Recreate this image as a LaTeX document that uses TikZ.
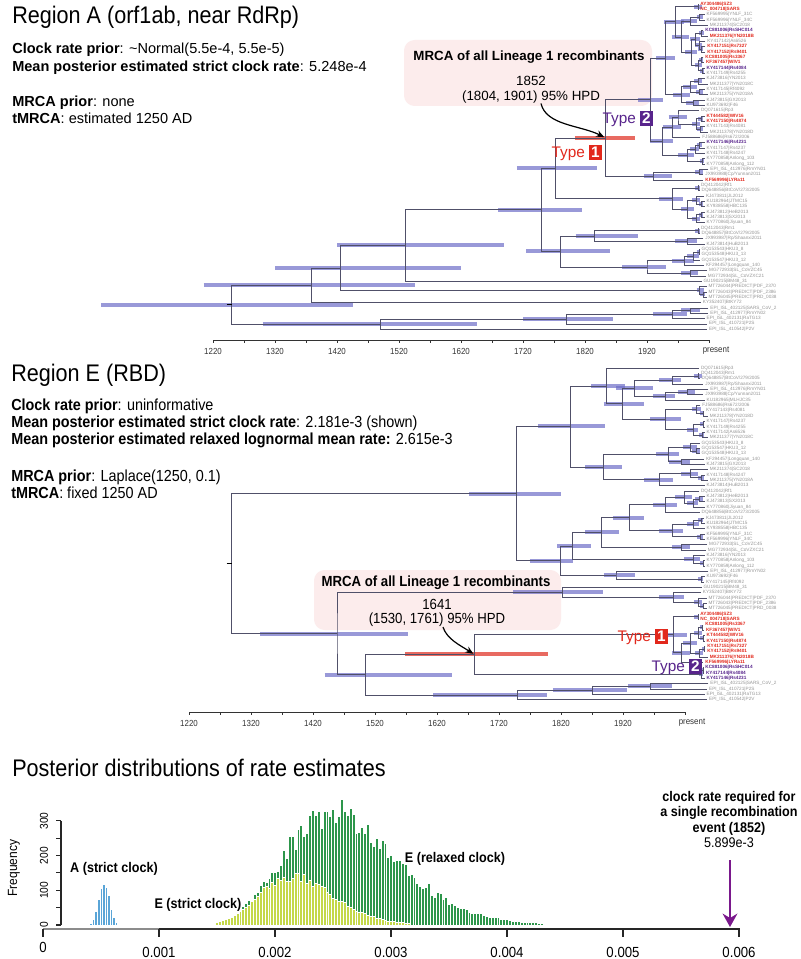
\documentclass[tikz,border=0pt]{standalone}
\usepackage{fontspec}
\setmainfont{Liberation Sans}
\newfontfamily\nsf{Liberation Sans}[FakeStretch=0.9]
\usetikzlibrary{calc,arrows.meta}

\definecolor{branchc}{RGB}{80,80,105}
\definecolor{hpdc}{RGB}{110,110,200}
\definecolor{hpdredc}{RGB}{228,80,70}
\definecolor{tipgrey}{RGB}{150,150,150}
\definecolor{typered}{RGB}{226,40,28}
\definecolor{typepurple}{RGB}{88,36,140}
\definecolor{boxpink}{RGB}{252,236,236}
\definecolor{histblue}{RGB}{90,165,215}
\definecolor{histgreen}{RGB}{45,150,75}
\definecolor{histyellow}{RGB}{196,216,72}
\definecolor{arrowpurple}{RGB}{122,24,140}

\pgfdeclarelayer{paper}
\pgfdeclarelayer{boxes}
\pgfdeclarelayer{bars}
\pgfsetlayers{paper,boxes,bars,main}

\tikzset{
  branch/.style={draw=branchc, line width=0.45pt},
  hpd/.style={draw=hpdc, draw opacity=0.7, line width=3pt},
  hpdred/.style={draw=hpdredc, draw opacity=0.85, line width=3pt},
  tiplab/.style={anchor=west, inner sep=0pt, xshift=1.3pt, text=tipgrey, font=\fontsize{3.5}{3.8}\selectfont},
  tipred/.style={tiplab, text=typered, font=\fontsize{3.5}{3.8}\selectfont\bfseries},
  tippurple/.style={tiplab, text=typepurple, font=\fontsize{3.5}{3.8}\selectfont\bfseries},
  paneltitle/.style={anchor=west, inner sep=0pt, font=\nsf\fontsize{18}{20}\selectfont},
  infoA/.style={anchor=west, inner sep=0pt, font=\fontsize{10.9}{13}\selectfont},
  infoE/.style={anchor=west, inner sep=0pt, font=\nsf\fontsize{12}{14}\selectfont},
  calloutA/.style={inner sep=0pt, font=\fontsize{10}{12}\selectfont},
  calloutE/.style={inner sep=0pt, font=\nsf\fontsize{11}{13}\selectfont},
  callarrow/.style={-{Stealth[length=6pt,width=5pt]}, line width=0.9pt},
  typelab/.style={anchor=east, inner sep=0pt, font=\fontsize{11.5}{13}\selectfont},
  axisline/.style={draw=black!80, line width=0.7pt},
  axislab/.style={inner sep=0pt, font=\nsf\fontsize{6.6}{8}\selectfont, text=black!80},
  histlab/.style={inner sep=0pt, font=\nsf\fontsize{10.5}{11.6}\selectfont\bfseries},
  ticklab/.style={inner sep=0pt, font=\nsf\fontsize{11}{13}\selectfont},
  ylab/.style={inner sep=0pt, rotate=90, font=\nsf\fontsize{8.5}{10}\selectfont},
  plotaxis/.style={draw=black!85, line width=0.8pt}
}

% year -> x (px), tree prefix \tr, tip rows \ytop + \dy*(i-1)
\def\xo{213}
\newcommand{\yr}[1]{\xo+0.62*(#1-1220)}
\newcommand{\tp}[4][tiplab]{%
  \coordinate (\tr#2) at ({\yr{#3}},{\ytop+\dy*(#2-1)});
  \node[#1] at (\tr#2) {#4};}
\newcommand{\nd}[7][hpd]{%
  \path ($(\tr#4)!.5!(\tr#5)$) coordinate (\tr#2m);
  \coordinate (\tr#2) at ({\yr{#3}},0 |- \tr#2m);
  \begin{pgfonlayer}{bars}
    \draw[#1] ({\yr{#6}},0 |- \tr#2) -- ({\yr{#7}},0 |- \tr#2);
  \end{pgfonlayer}
  \draw[branch] (\tr#4) -| (\tr#2) |- (\tr#5);}
\newcommand{\typebox}[2]{{\setlength{\fboxsep}{1.5pt}\colorbox{#1}{\textcolor{white}{\bfseries #2}}}}

\begin{document}
\begin{tikzpicture}[x=0.75pt,y=-0.75pt]
\begin{pgfonlayer}{paper}
\fill[white] (0,0) rectangle (800,959);
\end{pgfonlayer}
\useasboundingbox (0,0) rectangle (800,959);

% ---------------- Region A ----------------
\node[paneltitle] (titleA) at (12,17) {Region A (orf1ab, near RdRp)};
\node[infoA] (priorA) at (12,50) {\textbf{Clock rate prior}: \textasciitilde Normal(5.5e-4, 5.5e-5)};
\node[infoA] (rateA) at (12,68) {\textbf{Mean posterior estimated strict clock rate}: 5.248e-4};
\node[infoA] (mrcaPriorA) at (12,103) {\textbf{MRCA prior}: none};
\node[infoA] (tmrcaA) at (12,118) {\textbf{tMRCA}: estimated 1250 AD};

\begin{pgfonlayer}{boxes}
\fill[boxpink, rounded corners=8pt] (404,40) rectangle (652,106);
\end{pgfonlayer}
\node[calloutA, font=\fontsize{10}{12}\selectfont\bfseries] (mrcaA) at (529,57) {MRCA of all Lineage 1 recombinants};
\node[calloutA] (dateA) at (531,81) {1852};
\node[calloutA] (hpdA) at (531,97) {(1804, 1901) 95\% HPD};

\def\tr{a}\def\ytop{4}\def\dy{5.33}
\tp[tipred]{1}{2003}{AY304486|SZ3}
\tp[tipred]{2}{2003}{NC\_004718|SARS}
\tp{3}{2013}{KF569995|YNLF\_31C}
\tp{4}{2013}{KF569996|YNLF\_34C}
\tp{5}{2018}{MK211374|SC2018}
\tp[tippurple]{6}{2011}{KC881006|RsSHC014}
\tp[tipred]{7}{2018}{MK211376|YN2018B}
\tp{8}{2014}{KY417142|As6526}
\tp[tipred]{9}{2014}{KY417151|Rs7327}
\tp[tipred]{10}{2014}{KY417152|Rs9401}
\tp[tipred]{11}{2011}{KC881005|Rs3367}
\tp[tipred]{12}{2012}{KF367457|WIV1}
\tp[tippurple]{13}{2013}{KY417144|Rs4084}
\tp{14}{2013}{KY417149|Rs4255}
\tp{15}{2013}{KJ473816|YN2013}
\tp{16}{2018}{MK211377|YN2018C}
\tp{17}{2013}{KY417145|Rf4092}
\tp{18}{2018}{MK211375|YN2018A}
\tp{19}{2013}{KJ473815|GX2013}
\tp{20}{2013}{KU973692|F46}
\tp{21}{2004}{DQ071615|Rp3}
\tp[tipred]{22}{2013}{KT444582|WIV16}
\tp[tipred]{23}{2013}{KY417150|Rs4874}
\tp{24}{2013}{KY417143|Rs4081}
\tp{25}{2018}{MK211378|YN2018D}
\tp{26}{2006}{FJ588686|Rs672/2006}
\tp[tippurple]{27}{2013}{KY417146|Rs4231}
\tp{28}{2013}{KY417147|Rs4237}
\tp{29}{2013}{KY417148|Rs4247}
\tp{30}{2013}{KY770858|Anlong\_103}
\tp{31}{2013}{KY770859|Anlong\_112}
\tp{32}{2019}{EPI\_ISL\_412976|RmYN01}
\tp{33}{2011}{JX993988|Cp/Yunnan2011}
\tp[tipred]{34}{2011}{KF569996|LYRa11}
\tp{35}{2004}{DQ412042|Rf1}
\tp{36}{2005}{DQ648856|BtCoV/273/2005}
\tp{37}{2012}{KJ473811|JL2012}
\tp{38}{2013}{KU182964|JTMC15}
\tp{39}{2013}{KY938558|HBC135}
\tp{40}{2013}{KJ473812|HeB2013}
\tp{41}{2013}{KJ473813|SX2013}
\tp{42}{2013}{KY770860|Jiyuan\_84}
\tp{43}{2004}{DQ412043|Rm1}
\tp{44}{2005}{DQ648857|BtCoV/279/2005}
\tp{45}{2011}{JX993987|Rp/Shaanxi2011}
\tp{46}{2013}{KJ473814|HuB2013}
\tp{47}{2005}{GQ153543|HKU3\_8}
\tp{48}{2005}{GQ153548|HKU3\_13}
\tp{49}{2005}{GQ153547|HKU3\_12}
\tp{50}{2012}{KF294457|Longquan\_140}
\tp{51}{2017}{MG772933|SL\_CoVZC45}
\tp{52}{2015}{MG772934|SL\_CoVZXC21}
\tp{53}{2008}{GU190215|BM48\_31}
\tp{54}{2016}{MT726044|PREDICT|PDF\_2370}
\tp{55}{2016}{MT726043|PREDICT|PDF\_2386}
\tp{56}{2016}{MT726045|PREDICT|PRD\_0038}
\tp{57}{2007}{KY352407|BtKY72}
\tp{58}{2019}{EPI\_ISL\_402125|SARS\_CoV\_2}
\tp{59}{2019}{EPI\_ISL\_412977|RmYN02}
\tp{60}{2013}{EPI\_ISL\_402131|RaTG13}
\tp{61}{2017}{EPI\_ISL\_410721|P2S}
\tp{62}{2017}{EPI\_ISL\_410542|P2V}

\nd{s1}{2002}{1}{2}{1996}{2008}
\nd{s2}{2005}{3}{4}{2000}{2010}
\nd{s3}{1990}{s2}{5}{1975}{2000}
\nd{s4}{2008}{6}{7}{2004}{2012}
\nd{s5}{2008}{9}{10}{2003}{2011}
\nd{s6}{2004}{8}{s5}{1998}{2009}
\nd{s7}{1998}{s4}{s6}{1990}{2005}
\nd{s8}{2008}{11}{12}{2004}{2011}
\nd{s9}{2009}{13}{14}{2005}{2012}
\nd{s10}{2003}{s8}{s9}{1997}{2008}
\nd{s11}{1992}{s7}{s10}{1982}{2000}
\nd{s12}{1975}{s3}{s11}{1960}{1988}
\nd{s13}{1965}{s1}{s12}{1948}{1980}
\nd{s14}{2003}{15}{16}{1996}{2008}
\nd{s15}{2005}{17}{18}{1999}{2010}
\nd{s16}{1990}{s14}{s15}{1978}{2000}
\nd{s17}{1995}{19}{20}{1983}{2004}
\nd{s18}{1975}{s16}{s17}{1962}{1990}
\nd{A1}{1950}{s13}{s18}{1935}{1965}
\nd{r1}{2008}{22}{23}{2003}{2011}
\nd{r2}{2006}{24}{25}{2000}{2010}
\nd{r3}{2000}{r1}{r2}{1993}{2005}
\nd{r4}{1970}{21}{r3}{1955}{1985}
\nd{r5}{1960}{26}{r4}{1945}{1975}
\nd{r6}{2005}{27}{28}{2000}{2009}
\nd{r7}{1998}{r6}{29}{1990}{2004}
\nd{r8}{2009}{30}{31}{2005}{2012}
\nd{r9}{1985}{r7}{r8}{1970}{1995}
\nd{A2}{1945}{r5}{r9}{1925}{1962}
\nd{A}{1925}{A1}{A2}{1905}{1945}
\nd{b1}{2005}{32}{33}{1998}{2010}
\nd{B}{1930}{b1}{34}{1915}{1960}
\nd[hpdred]{L1}{1852}{A}{B}{1804}{1901}
\nd{d1}{2003}{35}{36}{1998}{2005}
\nd{d2}{2008}{38}{39}{2004}{2011}
\nd{d3}{2000}{37}{d2}{1993}{2006}
\nd{d4}{2008}{40}{41}{2004}{2011}
\nd{d5}{2000}{d4}{42}{1993}{2006}
\nd{d6}{1985}{d3}{d5}{1975}{1995}
\nd{D}{1960}{d1}{d6}{1940}{1978}
\nd{P1}{1772}{L1}{D}{1710}{1840}
\nd{e1}{2003}{43}{44}{1998}{2005}
\nd{e2}{1985}{45}{46}{1965}{2000}
\nd{e3}{1835}{e1}{e2}{1805}{1905}
\nd{f1}{2004}{47}{48}{2000}{2005}
\nd{f2}{1995}{f1}{49}{1985}{2004}
\nd{f3}{1980}{50}{f2}{1960}{1995}
\nd{f4}{1990}{51}{52}{1975}{2003}
\nd{f5}{1920}{f3}{f4}{1880}{1950}
\nd{C}{1780}{e3}{f5}{1725}{1860}
\nd{P0}{1750}{P1}{C}{1680}{1815}
\nd{Q}{1530}{P0}{53}{1420}{1690}
\nd{g1}{2010}{55}{56}{2006}{2013}
\nd{g2}{2005}{54}{g1}{2000}{2012}
\nd{R}{1425}{Q}{g2}{1320}{1620}
\nd{S}{1378}{R}{57}{1205}{1545}
\nd{h1}{1990}{58}{59}{1975}{2005}
\nd{h2}{1960}{h1}{60}{1930}{1985}
\nd{h3}{1790}{h2}{61}{1720}{1865}
\nd{E0}{1490}{h3}{62}{1300}{1645}
\nd{root}{1250}{S}{E0}{1040}{1445}
\draw[line width=1.2pt] ({\yr{1242}},0 |- aroot) -- (aroot);

\node[typelab, text=typered] (type1A) at (602,153) {Type \typebox{typered}{1}};
\node[typelab, text=typepurple] (type2A) at (653,119) {Type \typebox{typepurple}{2}};
\draw[callarrow] ([xshift=7.5pt]hpdA.south) .. controls +(5,22) and +(-24,-12) .. ([xshift=-0.5pt,yshift=0.5pt]aL1);

% axis A
\draw[axisline] (213,340) -- (709,340);
\foreach \k in {0,...,16} \draw[axisline] ({213+31*\k},340) -- ++(0,3);
\foreach \yy [count=\k from 0] in {1220,1320,...,1920} \node[axislab] (axA\k) at ({213+62*\k},351) {\yy};
\node[axislab] (axApresent) at (716,351) {present};

% ---------------- Region E ----------------
\node[paneltitle] (titleE) at (11,375) {Region E (RBD)};
\node[infoE] (priorE) at (11,406) {\textbf{Clock rate prior}: uninformative};
\node[infoE] (strictE) at (11,423) {\textbf{Mean posterior estimated strict clock rate}: 2.181e-3 (shown)};
\node[infoE] (relaxedE) at (11,440) {\textbf{Mean posterior estimated relaxed lognormal mean rate:} 2.615e-3};
\node[infoE] (mrcaPriorE) at (11,477) {\textbf{MRCA prior}: Laplace(1250, 0.1)};
\node[infoE] (tmrcaE) at (11,493) {\textbf{tMRCA}: fixed 1250 AD};

\begin{pgfonlayer}{boxes}
\fill[boxpink, rounded corners=8pt] (314,570) rectangle (561,630);
\end{pgfonlayer}
\node[calloutE, font=\nsf\fontsize{11}{13}\selectfont\bfseries] (mrcaE) at (436,583) {MRCA of all Lineage 1 recombinants};
\node[calloutE] (dateE) at (437,604) {1641};
\node[calloutE] (hpdE) at (437,620) {(1530, 1761) 95\% HPD};

\def\tr{e}\def\ytop{368}\def\dy{5.35}
\tp{1}{2004}{DQ071615|Rp3}
\tp{2}{2004}{DQ412043|Rm1}
\tp{3}{2005}{DQ648857|BtCoV/279/2005}
\tp{4}{2011}{JX993987|Rp/Shaanxi2011}
\tp{5}{2019}{EPI\_ISL\_412976|RmYN01}
\tp{6}{2011}{JX993988|Cp/Yunnan2011}
\tp{7}{2013}{KU182965|MLHJC35}
\tp{8}{2006}{FJ588686|Rs672/2006}
\tp{9}{2012}{KY417143|Rs4081}
\tp{10}{2018}{MK211378|YN2018D}
\tp{11}{2013}{KY417147|Rs4237}
\tp{12}{2013}{KY417149|Rs4255}
\tp{13}{2013}{KY417142|As6526}
\tp{14}{2018}{MK211377|YN2018C}
\tp{15}{2005}{GQ153543|HKU3\_8}
\tp{16}{2005}{GQ153547|HKU3\_12}
\tp{17}{2005}{GQ153548|HKU3\_13}
\tp{18}{2012}{KF294457|Longquan\_140}
\tp{19}{2013}{KJ473815|GX2013}
\tp{20}{2018}{MK211374|SC2018}
\tp{21}{2013}{KY417148|Rs4247}
\tp{22}{2018}{MK211375|YN2018A}
\tp{23}{2013}{KJ473814|HuB2013}
\tp{24}{2004}{DQ412042|Rf1}
\tp{25}{2013}{KJ473812|HeB2013}
\tp{26}{2013}{KJ473813|SX2013}
\tp{27}{2013}{KY770860|Jiyuan\_84}
\tp{28}{2005}{DQ648856|BtCoV/273/2005}
\tp{29}{2012}{KJ473811|JL2012}
\tp{30}{2013}{KU182964|JTMC15}
\tp{31}{2013}{KY938558|HBC135}
\tp{32}{2013}{KF569995|YNLF\_31C}
\tp{33}{2013}{KF569996|YNLF\_34C}
\tp{34}{2017}{MG772933|SL\_CoVZC45}
\tp{35}{2015}{MG772934|SL\_CoVZXC21}
\tp{36}{2013}{KJ473816|YN2013}
\tp{37}{2013}{KY770858|Anlong\_103}
\tp{38}{2013}{KY770859|Anlong\_112}
\tp{39}{2019}{EPI\_ISL\_412977|RmYN02}
\tp{40}{2013}{KU973692|F46}
\tp{41}{2012}{KY417145|Rf4092}
\tp{42}{2008}{GU190215|BM48\_31}
\tp{43}{2007}{KY352407|BtKY72}
\tp{44}{2016}{MT726044|PREDICT|PDF\_2370}
\tp{45}{2016}{MT726043|PREDICT|PDF\_2386}
\tp{46}{2016}{MT726045|PREDICT|PRD\_0038}
\tp[tipred]{47}{2003}{AY304486|SZ3}
\tp[tipred]{48}{2003}{NC\_004718|SARS}
\tp[tipred]{49}{2011}{KC881005|Rs3367}
\tp[tipred]{50}{2012}{KF367457|WIV1}
\tp[tipred]{51}{2013}{KT444582|WIV16}
\tp[tipred]{52}{2013}{KY417150|Rs4874}
\tp[tipred]{53}{2014}{KY417151|Rs7327}
\tp[tipred]{54}{2014}{KY417152|Rs9401}
\tp[tipred]{55}{2018}{MK211376|YN2018B}
\tp[tipred]{56}{2011}{KF569996|LYRa11}
\tp[tippurple]{57}{2011}{KC881006|RsSHC014}
\tp[tippurple]{58}{2012}{KY417144|Rs4084}
\tp[tippurple]{59}{2013}{KY417146|Rs4231}
\tp{60}{2019}{EPI\_ISL\_402125|SARS\_CoV\_2}
\tp{61}{2017}{EPI\_ISL\_410721|P2S}
\tp{62}{2013}{EPI\_ISL\_402131|RaTG13}
\tp{63}{2017}{EPI\_ISL\_410542|P2V}

\nd{u1}{2003}{2}{3}{1995}{2008}
\nd{u2}{1960}{u1}{4}{1940}{1975}
\nd{u3}{1985}{5}{6}{1970}{1998}
\nd{u4}{1950}{u3}{7}{1930}{1965}
\nd{U4}{1900}{u2}{u4}{1870}{1930}
\nd{u5}{2010}{9}{10}{2006}{2012}
\nd{u6}{2000}{8}{u5}{1992}{2007}
\nd{u7}{2010}{11}{12}{2006}{2012}
\nd{u8}{2009}{13}{14}{2004}{2012}
\nd{u9}{1995}{u7}{u8}{1985}{2003}
\nd{U5}{1950}{u6}{u9}{1925}{1975}
\nd{U3}{1880}{U4}{U5}{1850}{1915}
\nd{U2}{1855}{1}{U3}{1830}{1885}
\nd{w1}{2000}{16}{17}{1993}{2005}
\nd{w2}{1990}{15}{w1}{1978}{2000}
\nd{w3}{1975}{18}{19}{1955}{1990}
\nd{w4}{1955}{w2}{w3}{1935}{1972}
\nd{w5}{2008}{21}{22}{2002}{2012}
\nd{w6}{1990}{20}{w5}{1975}{2002}
\nd{w7}{1940}{w6}{23}{1915}{1962}
\nd{W}{1850}{w4}{w7}{1820}{1880}
\nd{U1}{1797}{U2}{W}{1744}{1852}
\nd{v1}{2005}{25}{26}{1998}{2010}
\nd{v2}{1995}{v1}{27}{1985}{2003}
\nd{v3}{1980}{24}{v2}{1965}{1992}
\nd{v4}{2008}{29}{30}{2003}{2011}
\nd{v5}{1995}{v4}{31}{1985}{2004}
\nd{v6}{2006}{32}{33}{2000}{2010}
\nd{v7}{1960}{v5}{v6}{1940}{1978}
\nd{v9}{1975}{34}{35}{1960}{1990}
\nd{v12}{2010}{37}{38}{2006}{2012}
\nd{v13}{1995}{36}{v12}{1980}{2005}
\nd{v8}{1950}{v3}{28}{1930}{1968}
\nd{v10}{1892}{v8}{v7}{1865}{1915}
\nd{v11}{1847}{v10}{v9}{1820}{1875}
\nd{V1a}{1800}{v11}{v13}{1775}{1830}
\nd{v14}{2008}{40}{41}{2003}{2011}
\nd{V1b}{1870}{39}{v14}{1850}{1900}
\nd{V1}{1780}{V1a}{V1b}{1731}{1800}
\nd{Eup}{1709}{U1}{V1}{1633}{1781}
\nd{p1}{2010}{45}{46}{2006}{2012}
\nd{p2}{2003}{44}{p1}{1996}{2008}
\nd{V2p}{1962}{43}{p2}{1940}{1980}
\nd{V2}{1783}{42}{V2p}{1704}{1849}
\nd{k1}{2002}{47}{48}{1996}{2003}
\nd{k2}{2009}{49}{50}{2005}{2011}
\nd{k3}{2010}{51}{52}{2006}{2012}
\nd{k4}{2003}{k2}{k3}{1996}{2008}
\nd{k5}{2012}{53}{54}{2009}{2013}
\nd{k6}{2004}{k5}{55}{1998}{2010}
\nd{k7}{1990}{k4}{k6}{1978}{2000}
\nd{k8}{1975}{k7}{56}{1960}{1990}
\nd{T1}{1962}{k1}{k8}{1945}{1985}
\nd{m1}{2010}{57}{58}{2006}{2012}
\nd{T2}{2008}{m1}{59}{2004}{2011}
\nd[hpdred]{L1}{1641}{T1}{T2}{1530}{1761}
\nd{n1}{1925}{60}{61}{1889}{1960}
\nd{n2}{1831}{n1}{62}{1768}{1888}
\nd{n3}{1710}{n2}{63}{1575}{1759}
\nd{X}{1465}{L1}{n3}{1400}{1605}
\nd{Elow}{1420}{V2}{X}{1296}{1535}
\nd{root}{1250}{Eup}{Elow}{1250}{1250}
\draw[line width=1.2pt] ({\yr{1242}},0 |- eroot) -- (eroot);

\node[typelab, text=typered] (type1E) at (668,637) {Type \typebox{typered}{1}};
\node[typelab, text=typepurple] (type2E) at (702,667) {Type \typebox{typepurple}{2}};
\draw[callarrow] ([xshift=4.5pt]hpdE.south) .. controls +(4,12) and +(-14,-9) .. ([xshift=-0.5pt,yshift=0.5pt]eL1);

% axis E
\draw[axisline] (189,712) -- (685,712);
\foreach \k in {0,...,16} \draw[axisline] ({189+31*\k},712) -- ++(0,3);
\foreach \yy [count=\k from 0] in {1220,1320,...,1920} \node[axislab] (axE\k) at ({189+62*\k},723) {\yy};
\node[axislab] (axEpresent) at (692,723) {present};

% ---------------- rate histograms ----------------
\node[paneltitle] (titleHist) at (12,768) {Posterior distributions of rate estimates};
\pgfmathsetseed{42}
% E relaxed clock
\foreach \r in {1.55,1.575,...,4.3}{
  \pgfmathsetmacro\lgv{ln(\r/2.5)}
  \pgfmathsetmacro\hh{0.347*325*exp(0-(\lgv)*(\lgv)/0.0722)*(1+0.14*rand)}
  \filldraw[fill=histgreen, draw=white, line width=0.3pt] ({43+116*\r-1.45},925) rectangle ({43+116*\r+1.45},{925-\hh});
}
% E strict clock
\foreach \r in {1.5,1.525,...,3.15}{
  \pgfmathsetmacro\lgv{ln(\r/2.15)}
  \pgfmathsetmacro\hh{0.347*140*exp(0-(\lgv)*(\lgv)/0.045)*(1+0.1*rand)}
  \filldraw[fill=histyellow, draw=white, line width=0.3pt] ({43+116*\r-1.45},925) rectangle ({43+116*\r+1.45},{925-\hh});
}
% A strict clock
\foreach \r in {0.39,0.412,...,0.67}{
  \pgfmathsetmacro\hh{0.347*128*exp(0-(\r-0.525)*(\r-0.525)/0.00405)*(1+0.08*rand)}
  \filldraw[fill=histblue, draw=white, line width=0.3pt] ({43+116*\r-1.27},925) rectangle ({43+116*\r+1.27},{925-\hh});
}

\draw[plotaxis] (61,925) -- (61,{925-104});
\foreach \c in {0,50,...,300} \draw[plotaxis] (61,{925-0.347*\c}) -- (56,{925-0.347*\c});
\foreach \c in {0,100,200,300} \node[ylab] (yl\c) at (44,{925-0.347*\c}) {\c};
\node[ylab, font=\nsf\fontsize{10}{12}\selectfont] (freqLab) at (14,868) {Frequency};

\draw[plotaxis] (43,929) -- (740,929);
\draw[draw=black!45, line width=1.4pt] (43,929) -- (159,929);
\foreach \k in {0,...,6} \draw[plotaxis] ({43+116*\k},929) -- ++(0,8);
\node[ticklab] (xl0) at (43,947) {0};
\foreach \v [count=\k] in {0.001,0.002,0.003,0.004,0.005,0.006} \node[ticklab] (xl\k) at ({43+116*\k},952) {\v};

\node[histlab] (labA) at (114,869) {A (strict clock)};
\node[histlab] (labEs) at (198,905) {E (strict clock)};
\node[histlab] (labEr) at (455,859) {E (relaxed clock)};
\node[histlab, align=center] (rateReq) at (729,813) {clock rate required for\\a single recombination\\event (1852)};
\node[inner sep=0pt, font=\nsf\fontsize{10.5}{12}\selectfont] (rateVal) at (729,843) {5.899e-3};
\coordinate (arrowTop) at (730,860);
\coordinate (arrowEnd) at (730,927);
\draw[arrowpurple, line width=2.2pt, -{Stealth[length=10pt,width=11pt]}] (arrowTop) -- (arrowEnd);
\end{tikzpicture}
\end{document}
